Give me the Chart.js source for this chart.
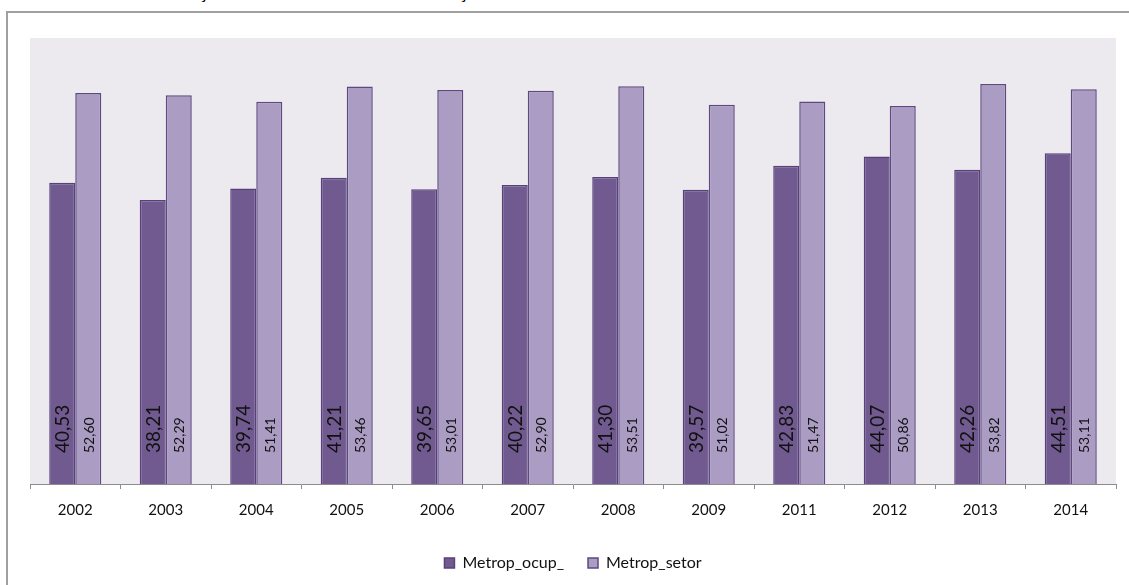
<!DOCTYPE html>
<html>
<head>
<meta charset="utf-8">
<script src="https://cdn.jsdelivr.net/npm/chart.js@4/dist/chart.umd.min.js"></script>
<style>
  html, body { margin: 0; padding: 0; background: #fff; overflow: hidden; }
  #wrap { position: relative; width: 1129px; height: 585px; overflow: hidden; }
  #frame {
    position: absolute; left: 6px; top: 11px; width: 1200px; height: 700px;
    border: 2px solid #a0a0a0; box-sizing: border-box;
  }
  .cut {
    position: absolute; top: -17px; font: bold 17px "Liberation Serif", serif; color: #000;
  }
  canvas { position: absolute; left: 0; top: 0; }
</style>
</head>
<body>
<div id="wrap">
  <div id="frame"></div>
  <span class="cut" style="left:197px">Ç</span>
  <span class="cut" style="left:457px">Ç</span>
  <canvas id="chart" width="1129" height="585"></canvas>
</div>
<script>
// ── Data ──────────────────────────────────────────────────────────────────────

const anos = ['2002', '2003', '2004', '2005', '2006', '2007', '2008', '2009', '2011', '2012', '2013', '2014'];
const metropOcup  = [40.53, 38.21, 39.74, 41.21, 39.65, 40.22, 41.30, 39.57, 42.83, 44.07, 42.26, 44.51];
const metropSetor = [52.60, 52.29, 51.41, 53.46, 53.01, 52.90, 53.51, 51.02, 51.47, 50.86, 53.82, 53.11];

const fmtBR = v => v.toFixed(2).replace('.', ',');

// ── Plugins ───────────────────────────────────────────────────────────────────

// fundo cinza-lilás só na área de plotagem
const plotBg = {
  id: 'plotBg',
  beforeDraw(chart) {
    const { ctx, chartArea: a } = chart;
    ctx.save();
    ctx.fillStyle = '#ECE9EF';
    ctx.fillRect(a.left, a.top, a.right - a.left, a.bottom - a.top);
    ctx.restore();
  },
};

// rótulos verticais dentro das barras, perto da base
const barLabels = {
  id: 'barLabels',
  afterDatasetsDraw(chart) {
    const { ctx } = chart;
    const sizes = [19, 14];
    chart.data.datasets.forEach((ds, di) => {
      chart.getDatasetMeta(di).data.forEach((bar, i) => {
        ctx.save();
        ctx.translate(bar.x, bar.base - 31);
        ctx.rotate(-Math.PI / 2);
        ctx.font = `${sizes[di]}px Lato`;
        ctx.fillStyle = '#111';
        ctx.textAlign = 'left';
        ctx.textBaseline = 'middle';
        ctx.fillText(fmtBR(ds.data[i]), 0, 1);
        ctx.restore();
      });
    });
  },
};

// ── Chart ─────────────────────────────────────────────────────────────────────

new Chart(document.getElementById('chart'), {
  type: 'bar',
  data: {
    labels: anos,
    datasets: [
      {
        label: 'Metrop_ocup_',
        data: metropOcup,
        backgroundColor: '#715A8F',
        borderColor: '#57417A',
        borderWidth: 1.5,
      },
      {
        label: 'Metrop_setor',
        data: metropSetor,
        backgroundColor: '#AA9CC2',
        borderColor: '#5E4A80',
        borderWidth: 1.5,
      },
    ],
  },
  options: {
    responsive: false,
    animation: false,
    layout: { padding: { left: 30, right: 13, top: 38, bottom: 4 } },
    datasets: {
      bar: { categoryPercentage: 0.575, barPercentage: 1 },
    },
    plugins: {
      tooltip: { enabled: false },
      legend: {
        position: 'bottom',
        labels: {
          color: '#111',
          font: { family: 'Lato', size: 16 },
          boxWidth: 10,
          boxHeight: 10,
          padding: 24,
        },
      },
    },
    scales: {
      x: {
        grid: {
          offset: true,
          drawOnChartArea: false,
          drawTicks: true,
          tickLength: 5,
          color: '#8c8c8c',
        },
        border: { color: '#8c8c8c', width: 1 },
        ticks: { color: '#111', font: { family: 'Lato', size: 15 }, padding: 12 },
      },
      y: {
        display: false,
        min: 0,
        max: 60,
      },
    },
  },
  plugins: [plotBg, barLabels],
});
</script>
</body>
</html>
